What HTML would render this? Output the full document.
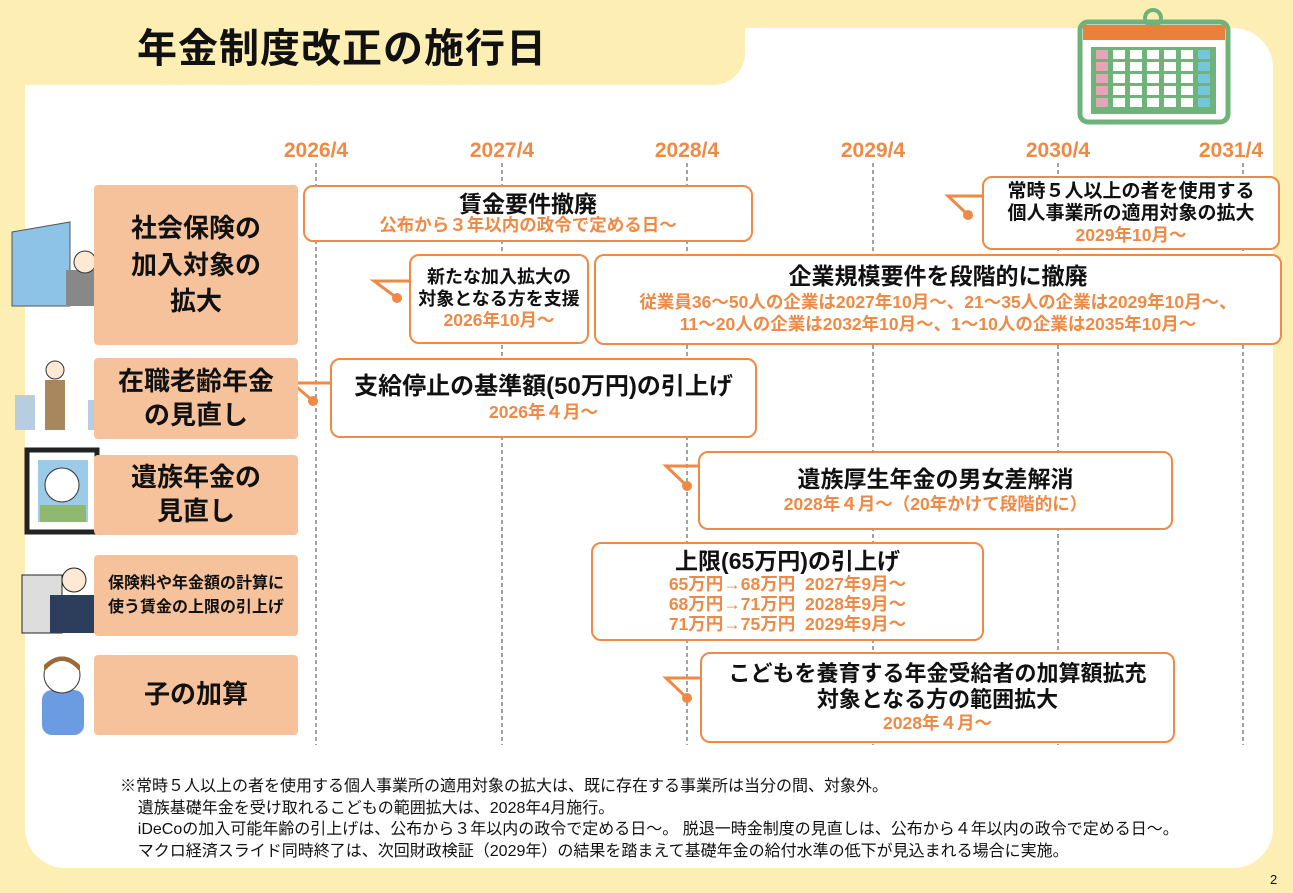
<!DOCTYPE html>
<html><head><meta charset="utf-8"><style>
*{margin:0;padding:0;box-sizing:border-box}
body{width:1293px;height:893px;background:#fdeeb3;position:relative;overflow:hidden;font-family:"Liberation Sans","Noto Sans CJK JP",sans-serif;font-weight:bold;color:#111}
.abs{position:absolute}
.panel{left:25px;top:28px;width:1248px;height:840px;background:#fff;border-radius:40px}
.tab{left:0;top:0;width:745px;height:85px;background:#fdeeb3;border-bottom-right-radius:32px}
.title{left:137px;top:16px;font-size:40px;letter-spacing:1px}
.yr{top:139px;font-size:21px;color:#ee8a45;width:100px;text-align:center}
.cat{background:#f6c29b;border-radius:4px;left:94px;width:204px;display:flex;align-items:center;justify-content:center;text-align:center;font-size:26px;line-height:1.3}
.ev{background:#fff;border:2px solid #ee8a45;border-radius:10px;display:flex;flex-direction:column;align-items:center;justify-content:center;text-align:center;font-size:23px;line-height:1.2}
.o{color:#ee8a45;font-size:17.5px}
.note{left:120px;top:776px;font-size:16px;font-weight:normal;line-height:21.5px}
</style></head><body>
<div class="abs panel"></div>
<div class="abs tab"></div>
<div class="abs title">年金制度改正の施行日</div>

<svg class="abs" style="left:0;top:0" width="1293" height="893">
<g stroke="#444" stroke-width="1" stroke-dasharray="4,3">
<line x1="316" y1="163" x2="316" y2="745"/><line x1="502" y1="163" x2="502" y2="745"/>
<line x1="687" y1="163" x2="687" y2="745"/><line x1="873" y1="163" x2="873" y2="745"/>
<line x1="1058" y1="163" x2="1058" y2="745"/><line x1="1243" y1="163" x2="1243" y2="745"/>
</g>
<g stroke="#ee8a45" stroke-width="3" fill="none">
<polyline points="984,196 948,196 968,215"/>
<polyline points="411,281 374,281 397,298"/>
<polyline points="332,383 292,383 313,401"/>
<polyline points="700,466 666,466 687,486"/>
<polyline points="702,678 666,678 687,698"/>
</g>
<g fill="#ee8a45"><circle cx="968" cy="215" r="5"/><circle cx="397" cy="298" r="5"/><circle cx="313" cy="401" r="5"/><circle cx="687" cy="486" r="5"/><circle cx="687" cy="698" r="5"/></g>
<rect x="1080" y="22" width="148" height="100" rx="8" fill="#fff" stroke="#6fb27a" stroke-width="5"/>
<circle cx="1153" cy="18" r="8" fill="none" stroke="#6fb27a" stroke-width="4"/>
<rect x="1083" y="25" width="142" height="15" fill="#e9803b"/>
<rect x="1091" y="47" width="125" height="67" fill="#6fb27a"/>
<g>
<rect x="1096" y="50" width="12" height="9" fill="#e8a3b8"/><rect x="1096" y="62" width="12" height="9" fill="#e8a3b8"/><rect x="1096" y="74" width="12" height="9" fill="#e8a3b8"/><rect x="1096" y="86" width="12" height="9" fill="#e8a3b8"/><rect x="1096" y="98" width="12" height="9" fill="#e8a3b8"/>
<rect x="1198" y="50" width="12" height="9" fill="#74c6da"/><rect x="1198" y="62" width="12" height="9" fill="#74c6da"/><rect x="1198" y="74" width="12" height="9" fill="#74c6da"/><rect x="1198" y="86" width="12" height="9" fill="#74c6da"/><rect x="1198" y="98" width="12" height="9" fill="#74c6da"/>
</g>
<g fill="#fff">
<rect x="1113" y="50" width="12" height="9"/><rect x="1130" y="50" width="12" height="9"/><rect x="1147" y="50" width="12" height="9"/><rect x="1164" y="50" width="12" height="9"/><rect x="1181" y="50" width="12" height="9"/>
<rect x="1113" y="62" width="12" height="9"/><rect x="1130" y="62" width="12" height="9"/><rect x="1147" y="62" width="12" height="9"/><rect x="1164" y="62" width="12" height="9"/><rect x="1181" y="62" width="12" height="9"/>
<rect x="1113" y="74" width="12" height="9"/><rect x="1130" y="74" width="12" height="9"/><rect x="1147" y="74" width="12" height="9"/><rect x="1164" y="74" width="12" height="9"/><rect x="1181" y="74" width="12" height="9"/>
<rect x="1113" y="86" width="12" height="9"/><rect x="1130" y="86" width="12" height="9"/><rect x="1147" y="86" width="12" height="9"/><rect x="1164" y="86" width="12" height="9"/><rect x="1181" y="86" width="12" height="9"/>
<rect x="1113" y="98" width="12" height="9"/><rect x="1130" y="98" width="12" height="9"/><rect x="1147" y="98" width="12" height="9"/><rect x="1164" y="98" width="12" height="9"/><rect x="1181" y="98" width="12" height="9"/>
</g>
<polygon points="12,232 70,222 70,306 12,306" fill="#8ec3e8" stroke="#555"/>
<rect x="66" y="270" width="30" height="36" fill="#888"/><circle cx="85" cy="262" r="11" fill="#fde9d4" stroke="#333"/>
<rect x="45" y="380" width="20" height="50" fill="#a8875f"/><circle cx="55" cy="370" r="9" fill="#fde9d4" stroke="#333"/>
<rect x="15" y="395" width="20" height="35" fill="#b8cde0"/><rect x="88" y="400" width="16" height="30" fill="#b8cde0"/>
<rect x="27" y="450" width="70" height="82" fill="none" stroke="#222" stroke-width="5"/>
<rect x="38" y="460" width="50" height="62" fill="#9ccbe8"/><circle cx="62" cy="485" r="17" fill="#fff" stroke="#333"/>
<rect x="40" y="505" width="46" height="17" fill="#8fb870"/>
<rect x="22" y="575" width="40" height="58" fill="#ddd" stroke="#222"/>
<rect x="50" y="595" width="50" height="38" fill="#2c3e5c"/><circle cx="74" cy="580" r="12" fill="#fde9d4" stroke="#222"/>
<rect x="42" y="690" width="42" height="45" rx="10" fill="#6b9be0"/><circle cx="62" cy="675" r="18" fill="#fff" stroke="#333"/>
<path d="M44 672 Q62 650 80 672 L80 665 Q62 648 44 665Z" fill="#9a6a3a"/>
</svg>

<div class="abs yr" style="left:266px">2026/4</div>
<div class="abs yr" style="left:452px">2027/4</div>
<div class="abs yr" style="left:637px">2028/4</div>
<div class="abs yr" style="left:823px">2029/4</div>
<div class="abs yr" style="left:1008px">2030/4</div>
<div class="abs yr" style="left:1181px">2031/4</div>

<div class="abs cat" style="top:185px;height:160px;line-height:1.4">社会保険の<br>加入対象の<br>拡大</div>
<div class="abs cat" style="top:358px;height:81px">在職老齢年金<br>の見直し</div>
<div class="abs cat" style="top:455px;height:80px">遺族年金の<br>見直し</div>
<div class="abs cat" style="top:555px;height:81px;font-size:16px;line-height:1.45">保険料や年金額の計算に<br>使う賃金の上限の引上げ</div>
<div class="abs cat" style="top:655px;height:80px">子の加算</div>

<div class="abs ev" style="left:303px;top:185px;width:450px;height:57px;line-height:1.05">賃金要件撤廃<span class="o">公布から３年以内の政令で定める日～</span></div>
<div class="abs ev" style="left:982px;top:176px;width:298px;height:74px;font-size:19px;line-height:1.15">常時５人以上の者を使用する<br>個人事業所の適用対象の拡大<span class="o">2029年10月～</span></div>
<div class="abs ev" style="left:409px;top:254px;width:180px;height:90px;font-size:18px">新たな加入拡大の<br>対象となる方を支援<span class="o">2026年10月～</span></div>
<div class="abs ev" style="left:594px;top:254px;width:688px;height:91px">企業規模要件を段階的に撤廃<span class="o" style="line-height:1.3">従業員36～50人の企業は2027年10月～、21～35人の企業は2029年10月～、<br>11～20人の企業は2032年10月～、1～10人の企業は2035年10月～</span></div>
<div class="abs ev" style="left:330px;top:358px;width:427px;height:80px;font-size:24px">支給停止の基準額(50万円)の引上げ<span class="o">2026年４月～</span></div>
<div class="abs ev" style="left:698px;top:451px;width:475px;height:79px">遺族厚生年金の男女差解消<span class="o">2028年４月～（20年かけて段階的に）</span></div>
<div class="abs ev" style="left:591px;top:542px;width:393px;height:99px;line-height:1.1">上限(65万円)の引上げ<span class="o" style="text-align:left;line-height:1.15">65万円→68万円&nbsp; 2027年9月～<br>68万円→71万円&nbsp; 2028年9月～<br>71万円→75万円&nbsp; 2029年9月～</span></div>
<div class="abs ev" style="left:700px;top:652px;width:475px;height:91px;font-size:22px;line-height:1.2">こどもを養育する年金受給者の加算額拡充<br>対象となる方の範囲拡大<span class="o">2028年４月～</span></div>

<div class="abs note">※常時５人以上の者を使用する個人事業所の適用対象の拡大は、既に存在する事業所は当分の間、対象外。<br>
&nbsp;&nbsp;&nbsp;&nbsp;遺族基礎年金を受け取れるこどもの範囲拡大は、2028年4月施行。<br>
&nbsp;&nbsp;&nbsp;&nbsp;iDeCoの加入可能年齢の引上げは、公布から３年以内の政令で定める日～。 脱退一時金制度の見直しは、公布から４年以内の政令で定める日～。<br>
&nbsp;&nbsp;&nbsp;&nbsp;マクロ経済スライド同時終了は、次回財政検証（2029年）の結果を踏まえて基礎年金の給付水準の低下が見込まれる場合に実施。</div>
<div class="abs" style="left:1270px;top:872px;font-size:13px;font-weight:normal">2</div>
</body></html>
